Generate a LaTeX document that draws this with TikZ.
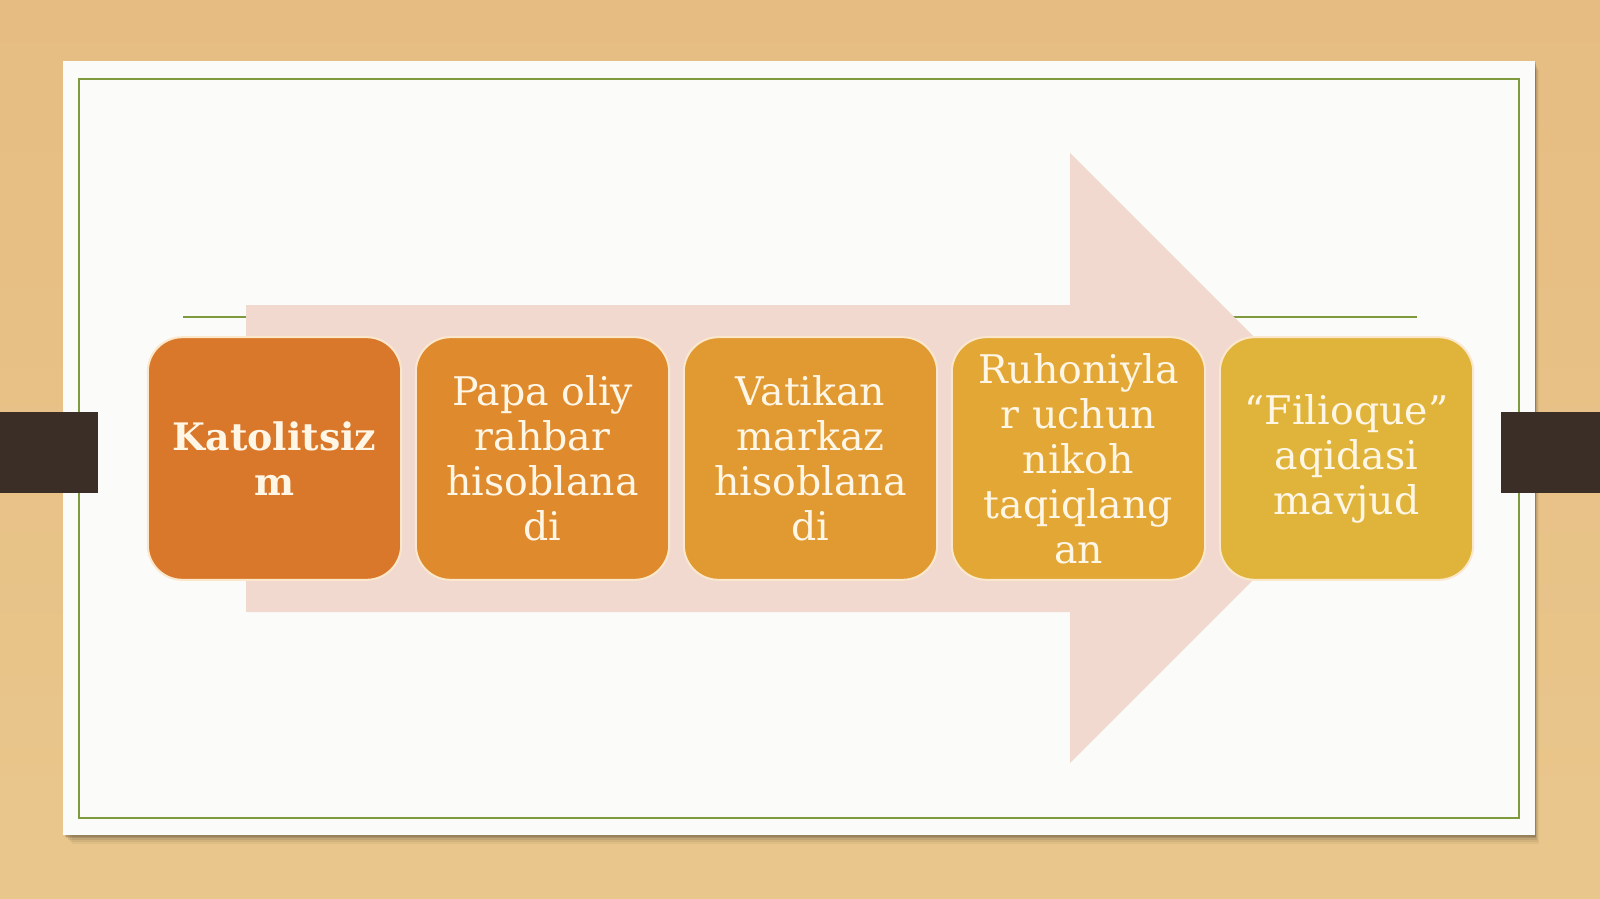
\documentclass[tikz,border=0pt]{standalone}
\usepackage{fontspec}
\setmainfont{DejaVu Serif}
\definecolor{wood}{HTML}{E9C78C}
\definecolor{woodtop}{HTML}{E6BC82}
\definecolor{card}{HTML}{FBFBFA}
\definecolor{frame}{HTML}{7E9A3C}
\definecolor{tab}{HTML}{3A2E27}
\definecolor{arrowpink}{HTML}{F2D9D0}
\definecolor{cA}{HTML}{D9782A}
\definecolor{cB}{HTML}{DE8A2D}
\definecolor{cC}{HTML}{E09A31}
\definecolor{cD}{HTML}{E2A735}
\definecolor{cE}{HTML}{E0B43A}
\definecolor{txt}{HTML}{FFF6E6}
\definecolor{boxedge}{HTML}{FBE8CC}
\begin{document}
\begin{tikzpicture}[x=0.75pt,y=-0.75pt,
  stepbox/.style={draw=boxedge, line width=1.5pt, rounded corners=26pt,
    minimum width=190pt, minimum height=182pt, inner sep=0pt,
    text=txt, align=center, font=\fontsize{29.6}{33.75}\selectfont},
  greenline/.style={draw=frame, line width=1.2pt}]
\useasboundingbox (0,0) rectangle (1600,899);
% wood background
\shade[top color=woodtop, bottom color=wood] (0,0) rectangle (1600,899);
% card shadow
\foreach \o/\a in {9/0.04,7/0.06,5/0.08,3/0.10,1.5/0.12}{
  \fill[black, opacity=\a] (63+\o,61+\o) rectangle (1535+\o*0.4,835+\o);
}
% card
\fill[card] (63,61) rectangle (1535,835);
\draw[greenline] (79,79) rectangle (1519,818);
% tabs
\fill[tab] (0,412) rectangle (98,493);
\fill[tab] (1501,412) rectangle (1600,493);
% short lines
\coordinate (l1) at (183,317);
\coordinate (l2) at (246,317);
\coordinate (r1) at (1233,317);
\coordinate (r2) at (1417,317);
\draw[greenline, line width=0.9pt] (l1) -- (l2);
\draw[greenline, line width=0.9pt] (r1) -- (r2);
% big arrow
\fill[arrowpink] (246,305) -- (1070,305) -- (1070,153) -- (1375,458)
  -- (1070,763) -- (1070,612) -- (246,612) -- cycle;
% boxes
\node[stepbox, fill=cA, font=\fontsize{28.4}{33.75}\selectfont\bfseries] (b1) at (274.5,458.5) {Katolitsiz\\m};
\node[stepbox, fill=cB] (b2) at (542.5,458.5) {Papa oliy\\rahbar\\hisoblana\\di};
\node[stepbox, fill=cC] (b3) at (810.5,458.5) {Vatikan\\markaz\\hisoblana\\di};
\node[stepbox, fill=cD] (b4) at (1078.5,458.5) {Ruhoniyla\\r uchun\\nikoh\\taqiqlang\\an};
\node[stepbox, fill=cE] (b5) at (1346.5,458.5) {“Filioque”\\aqidasi\\mavjud};
\end{tikzpicture}
\end{document}
